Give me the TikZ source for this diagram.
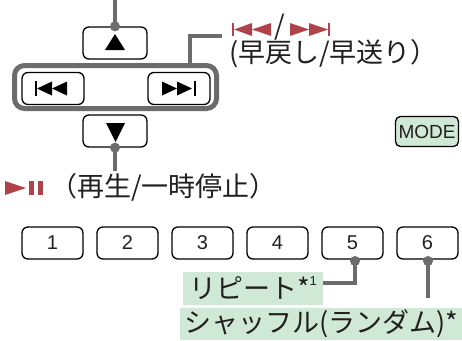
\documentclass[tikz,border=0pt]{standalone}
\usepackage{fontspec}
\newfontfamily\jp{Noto Sans CJK JP}
\newfontfamily\lat{Liberation Sans}
\definecolor{linegray}{HTML}{6B6C6E}
\definecolor{iconred}{HTML}{B0434A}
\definecolor{lblgreen}{HTML}{D0E9D6}
\definecolor{txt}{HTML}{231F20}
\begin{document}
\begin{tikzpicture}[x=1pt,y=-1pt,
  btn/.style={draw=black,line width=1.3pt,rounded corners=6pt,minimum width=62pt,minimum height=32pt,inner sep=0pt,fill=white},
  numbtn/.style={btn,font=\lat\fontsize{20}{20}\selectfont,text=txt},
  conn/.style={draw=linegray,line width=4.5pt},
  dotc/.style={fill=linegray,circle,inner sep=0pt,minimum size=10pt},
  jtext/.style={font=\jp\fontsize{27}{27}\selectfont,text=txt,inner sep=0pt},
  glabel/.style={fill=lblgreen,inner sep=0pt,font=\jp\fontsize{27}{27}\selectfont,text=txt},
  icon/.style={fill=black,draw=none}]
\useasboundingbox (0,0) rectangle (462,340);

% group frame for skip buttons
\node[draw=linegray,line width=5pt,rounded corners=10pt,minimum width=202pt,minimum height=43pt,inner sep=0pt] (grp) at (115.5,87) {};

% direction buttons
\node[btn,minimum width=64pt] (up) at (115,43) {};
\node[btn,minimum width=64pt] (down) at (115,131) {};
\node[btn] (prev) at (53,88.5) {};
\node[btn] (next) at (179,88.5) {};

% icons
\fill[icon] (105,50) -- (125,50) -- (115,34) -- cycle;
\fill[icon] (106,123) -- (125,123) -- (115.5,142) -- cycle;
\fill[icon] (34.5,81) rectangle (36.5,96);
\fill[icon] (37,88.5) -- (52,81.5) -- (52,95.5) -- cycle;
\fill[icon] (52,88.5) -- (67,81.5) -- (67,95.5) -- cycle;
\fill[icon] (162,81.5) -- (177,88.5) -- (162,95.5) -- cycle;
\fill[icon] (177,81.5) -- (192,88.5) -- (177,95.5) -- cycle;
\fill[icon] (193.5,81) rectangle (195.5,96);

% top connector
\coordinate (topend) at (115,0);
\node[dotc] (updot) at (up.north) {};
\draw[conn] (topend) -- (updot.center);

% bottom connector
\coordinate (botend) at (115,171);
\node[dotc] (downdot) at (down.south) {};
\draw[conn] (downdot.center) -- (botend);

% group connector
\coordinate (gend) at (222,36);
\draw[conn] (grp.north -| 190,0) -- (190,36) -- (gend);

% skip label
\fill[iconred] (232,23) rectangle (234,36);
\fill[iconred] (234,29.5) -- (252,23) -- (252,36) -- cycle;
\fill[iconred] (252,29.5) -- (271,23) -- (271,36) -- cycle;
\node[jtext,anchor=center] (slash) at (280,27) {/};
\fill[iconred] (290,23) -- (309,29.5) -- (290,36) -- cycle;
\fill[iconred] (309,23) -- (328,29.5) -- (309,36) -- cycle;
\fill[iconred] (328,23) rectangle (330,36);
\node[jtext,anchor=west] (skiplbl) at (229,54) {(早戻し/早送り）};

% play/pause label
\fill[iconred] (5,181) -- (26,188) -- (5,195) -- cycle;
\fill[iconred] (29,181) rectangle (34,195);
\fill[iconred] (38,181) rectangle (43,195);
\node[jtext,anchor=west] (playlbl) at (50,187) {（再生/一時停止）};

% MODE
\node[btn,fill=lblgreen,rounded corners=5pt,minimum width=63pt,minimum height=30pt,font=\lat\fontsize{19}{19}\selectfont,text=txt] (mode) at (427,131.5) {MODE};

% number buttons
\foreach \i/\x in {1/52.5,2/127.5,3/202.5,4/277.5,5/352.5,6/427.5}{
  \node[numbtn,minimum width=61pt] (b\i) at (\x,243) {\i};
}

% labels
\node[glabel,minimum width=140pt,minimum height=33pt] (rep) at (253,288.5) {リピート*\raisebox{13pt}{\lat\fontsize{13}{13}\selectfont 1}};
\node[glabel,minimum width=282pt,minimum height=32pt] (shuf) at (321,324) {シャッフル(ランダム)*};

\node[dotc] (d5) at (355,261) {};
\draw[conn] (d5.center) -- (355,283) -- (rep.east |- 0,283);
\node[dotc] (d6) at (428,261) {};
\draw[conn] (d6.center) -- (428,298) coordinate (e6);
\end{tikzpicture}
\end{document}
